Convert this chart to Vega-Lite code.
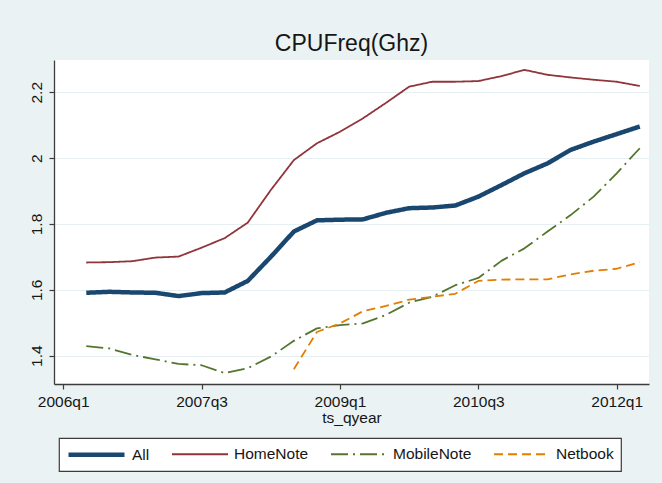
{
  "$schema": "https://vega.github.io/schema/vega-lite/v6.json",
  "width": 595,
  "height": 324,
  "autosize": {"type": "none"},
  "padding": {"left": 54, "top": 60, "right": 13, "bottom": 99},
  "background": "#EAF2F3",
  "title": {"text": "CPUFreq(Ghz)", "fontSize": 23, "font": "Liberation Sans", "fontWeight": "normal", "color": "#161616", "anchor": "middle", "baseline": "alphabetic", "offset": -14},
  "config": {
    "view": {"fill": "white", "stroke": null},
    "axis": {
      "domainColor": "#3c3c3c",
      "domainWidth": 1.3,
      "tickColor": "#3c3c3c",
      "tickSize": 5,
      "tickWidth": 1.2,
      "labelFont": "Liberation Sans",
      "labelFontSize": 15.5,
      "labelColor": "#161616",
      "titleFont": "Liberation Sans",
      "titleFontSize": 15.5,
      "titleFontWeight": "normal",
      "titleColor": "#161616",
      "gridColor": "#E6EFF1",
      "gridWidth": 1
    },
    "legend": {
      "orient": "none",
      "legendX": 5,
      "legendY": 378,
      "direction": "horizontal",
      "fillColor": "white",
      "strokeColor": "#3c3c3c",
      "strokeWidth": 1.2,
      "padding": 7,
      "symbolType": "M-4,0H4",
      "symbolSize": 196,
      "symbolOffset": 21,
      "labelFont": "Liberation Sans",
      "labelFontSize": 15.5,
      "labelColor": "#161616",
      "labelOffset": 26,
      "columnPadding": 18
    }
  },
  "data": {
    "values": [
      {"ts_qyear": 185, "series": "All", "v": 1.591},
      {"ts_qyear": 186, "series": "All", "v": 1.594},
      {"ts_qyear": 187, "series": "All", "v": 1.592},
      {"ts_qyear": 188, "series": "All", "v": 1.591},
      {"ts_qyear": 189, "series": "All", "v": 1.581},
      {"ts_qyear": 190, "series": "All", "v": 1.590},
      {"ts_qyear": 191, "series": "All", "v": 1.592},
      {"ts_qyear": 192, "series": "All", "v": 1.627},
      {"ts_qyear": 193, "series": "All", "v": 1.700},
      {"ts_qyear": 194, "series": "All", "v": 1.777},
      {"ts_qyear": 195, "series": "All", "v": 1.811},
      {"ts_qyear": 196, "series": "All", "v": 1.813},
      {"ts_qyear": 197, "series": "All", "v": 1.814},
      {"ts_qyear": 198, "series": "All", "v": 1.834},
      {"ts_qyear": 199, "series": "All", "v": 1.848},
      {"ts_qyear": 200, "series": "All", "v": 1.850},
      {"ts_qyear": 201, "series": "All", "v": 1.856},
      {"ts_qyear": 202, "series": "All", "v": 1.883},
      {"ts_qyear": 203, "series": "All", "v": 1.918},
      {"ts_qyear": 204, "series": "All", "v": 1.954},
      {"ts_qyear": 205, "series": "All", "v": 1.984},
      {"ts_qyear": 206, "series": "All", "v": 2.025},
      {"ts_qyear": 207, "series": "All", "v": 2.050},
      {"ts_qyear": 208, "series": "All", "v": 2.073},
      {"ts_qyear": 209, "series": "All", "v": 2.096},
      {"ts_qyear": 185, "series": "HomeNote", "v": 1.683},
      {"ts_qyear": 186, "series": "HomeNote", "v": 1.684},
      {"ts_qyear": 187, "series": "HomeNote", "v": 1.687},
      {"ts_qyear": 188, "series": "HomeNote", "v": 1.698},
      {"ts_qyear": 189, "series": "HomeNote", "v": 1.701},
      {"ts_qyear": 190, "series": "HomeNote", "v": 1.728},
      {"ts_qyear": 191, "series": "HomeNote", "v": 1.757},
      {"ts_qyear": 192, "series": "HomeNote", "v": 1.804},
      {"ts_qyear": 193, "series": "HomeNote", "v": 1.903},
      {"ts_qyear": 194, "series": "HomeNote", "v": 1.994},
      {"ts_qyear": 195, "series": "HomeNote", "v": 2.045},
      {"ts_qyear": 196, "series": "HomeNote", "v": 2.080},
      {"ts_qyear": 197, "series": "HomeNote", "v": 2.121},
      {"ts_qyear": 198, "series": "HomeNote", "v": 2.168},
      {"ts_qyear": 199, "series": "HomeNote", "v": 2.217},
      {"ts_qyear": 200, "series": "HomeNote", "v": 2.232},
      {"ts_qyear": 201, "series": "HomeNote", "v": 2.232},
      {"ts_qyear": 202, "series": "HomeNote", "v": 2.234},
      {"ts_qyear": 203, "series": "HomeNote", "v": 2.249},
      {"ts_qyear": 204, "series": "HomeNote", "v": 2.268},
      {"ts_qyear": 205, "series": "HomeNote", "v": 2.253},
      {"ts_qyear": 206, "series": "HomeNote", "v": 2.245},
      {"ts_qyear": 207, "series": "HomeNote", "v": 2.238},
      {"ts_qyear": 208, "series": "HomeNote", "v": 2.232},
      {"ts_qyear": 209, "series": "HomeNote", "v": 2.219},
      {"ts_qyear": 185, "series": "MobileNote", "v": 1.429},
      {"ts_qyear": 186, "series": "MobileNote", "v": 1.422},
      {"ts_qyear": 187, "series": "MobileNote", "v": 1.402},
      {"ts_qyear": 188, "series": "MobileNote", "v": 1.389},
      {"ts_qyear": 189, "series": "MobileNote", "v": 1.375},
      {"ts_qyear": 190, "series": "MobileNote", "v": 1.371},
      {"ts_qyear": 191, "series": "MobileNote", "v": 1.347},
      {"ts_qyear": 192, "series": "MobileNote", "v": 1.362},
      {"ts_qyear": 193, "series": "MobileNote", "v": 1.397},
      {"ts_qyear": 194, "series": "MobileNote", "v": 1.445},
      {"ts_qyear": 195, "series": "MobileNote", "v": 1.483},
      {"ts_qyear": 196, "series": "MobileNote", "v": 1.493},
      {"ts_qyear": 197, "series": "MobileNote", "v": 1.498},
      {"ts_qyear": 198, "series": "MobileNote", "v": 1.524},
      {"ts_qyear": 199, "series": "MobileNote", "v": 1.561},
      {"ts_qyear": 200, "series": "MobileNote", "v": 1.579},
      {"ts_qyear": 201, "series": "MobileNote", "v": 1.614},
      {"ts_qyear": 202, "series": "MobileNote", "v": 1.636},
      {"ts_qyear": 203, "series": "MobileNote", "v": 1.688},
      {"ts_qyear": 204, "series": "MobileNote", "v": 1.726},
      {"ts_qyear": 205, "series": "MobileNote", "v": 1.777},
      {"ts_qyear": 206, "series": "MobileNote", "v": 1.827},
      {"ts_qyear": 207, "series": "MobileNote", "v": 1.883},
      {"ts_qyear": 208, "series": "MobileNote", "v": 1.954},
      {"ts_qyear": 209, "series": "MobileNote", "v": 2.030},
      {"ts_qyear": 194, "series": "Netbook", "v": 1.359},
      {"ts_qyear": 195, "series": "Netbook", "v": 1.472},
      {"ts_qyear": 196, "series": "Netbook", "v": 1.498},
      {"ts_qyear": 197, "series": "Netbook", "v": 1.535},
      {"ts_qyear": 198, "series": "Netbook", "v": 1.551},
      {"ts_qyear": 199, "series": "Netbook", "v": 1.570},
      {"ts_qyear": 200, "series": "Netbook", "v": 1.579},
      {"ts_qyear": 201, "series": "Netbook", "v": 1.588},
      {"ts_qyear": 202, "series": "Netbook", "v": 1.627},
      {"ts_qyear": 203, "series": "Netbook", "v": 1.631},
      {"ts_qyear": 204, "series": "Netbook", "v": 1.632},
      {"ts_qyear": 205, "series": "Netbook", "v": 1.632},
      {"ts_qyear": 206, "series": "Netbook", "v": 1.647},
      {"ts_qyear": 207, "series": "Netbook", "v": 1.658},
      {"ts_qyear": 208, "series": "Netbook", "v": 1.664},
      {"ts_qyear": 209, "series": "Netbook", "v": 1.684}
    ]
  },
  "mark": {"type": "line", "strokeJoin": "round"},
  "encoding": {
    "x": {
      "field": "ts_qyear",
      "type": "quantitative",
      "scale": {"domain": [183.6, 209.4], "nice": false, "zero": false},
      "axis": {
        "values": [184, 190, 196, 202, 208],
        "labelExpr": "(1960 + floor(datum.value / 4)) + 'q' + (datum.value % 4 + 1)",
        "title": "ts_qyear",
        "grid": false,
        "labelPadding": 5,
        "titlePadding": 1,
        "labelFlush": false,
        "labelOverlap": false
      }
    },
    "y": {
      "field": "v",
      "type": "quantitative",
      "scale": {"domain": [1.314, 2.298], "nice": false, "zero": false},
      "axis": {
        "values": [1.4, 1.6, 1.8, 2, 2.2],
        "format": "~g",
        "title": null,
        "grid": true,
        "labelAngle": 270,
        "labelAlign": "center",
        "labelBaseline": "alphabetic",
        "labelPadding": 8,
        "labelFlush": false,
        "labelOverlap": false
      }
    },
    "color": {
      "field": "series",
      "type": "nominal",
      "scale": {"domain": ["All", "HomeNote", "MobileNote", "Netbook"], "range": ["#1a476f", "#90353b", "#55752f", "#e37e00"]},
      "legend": {"title": null}
    },
    "strokeDash": {
      "field": "series",
      "type": "nominal",
      "scale": {"domain": ["All", "HomeNote", "MobileNote", "Netbook"], "range": [[1, 0], [1, 0], [17, 5, 2, 5], [9, 5]]},
      "legend": {"title": null}
    },
    "strokeWidth": {
      "field": "series",
      "type": "nominal",
      "scale": {"type": "ordinal", "domain": ["All", "HomeNote", "MobileNote", "Netbook"], "range": [4.5, 1.8, 1.8, 1.8]},
      "legend": {"title": null}
    }
  }
}
